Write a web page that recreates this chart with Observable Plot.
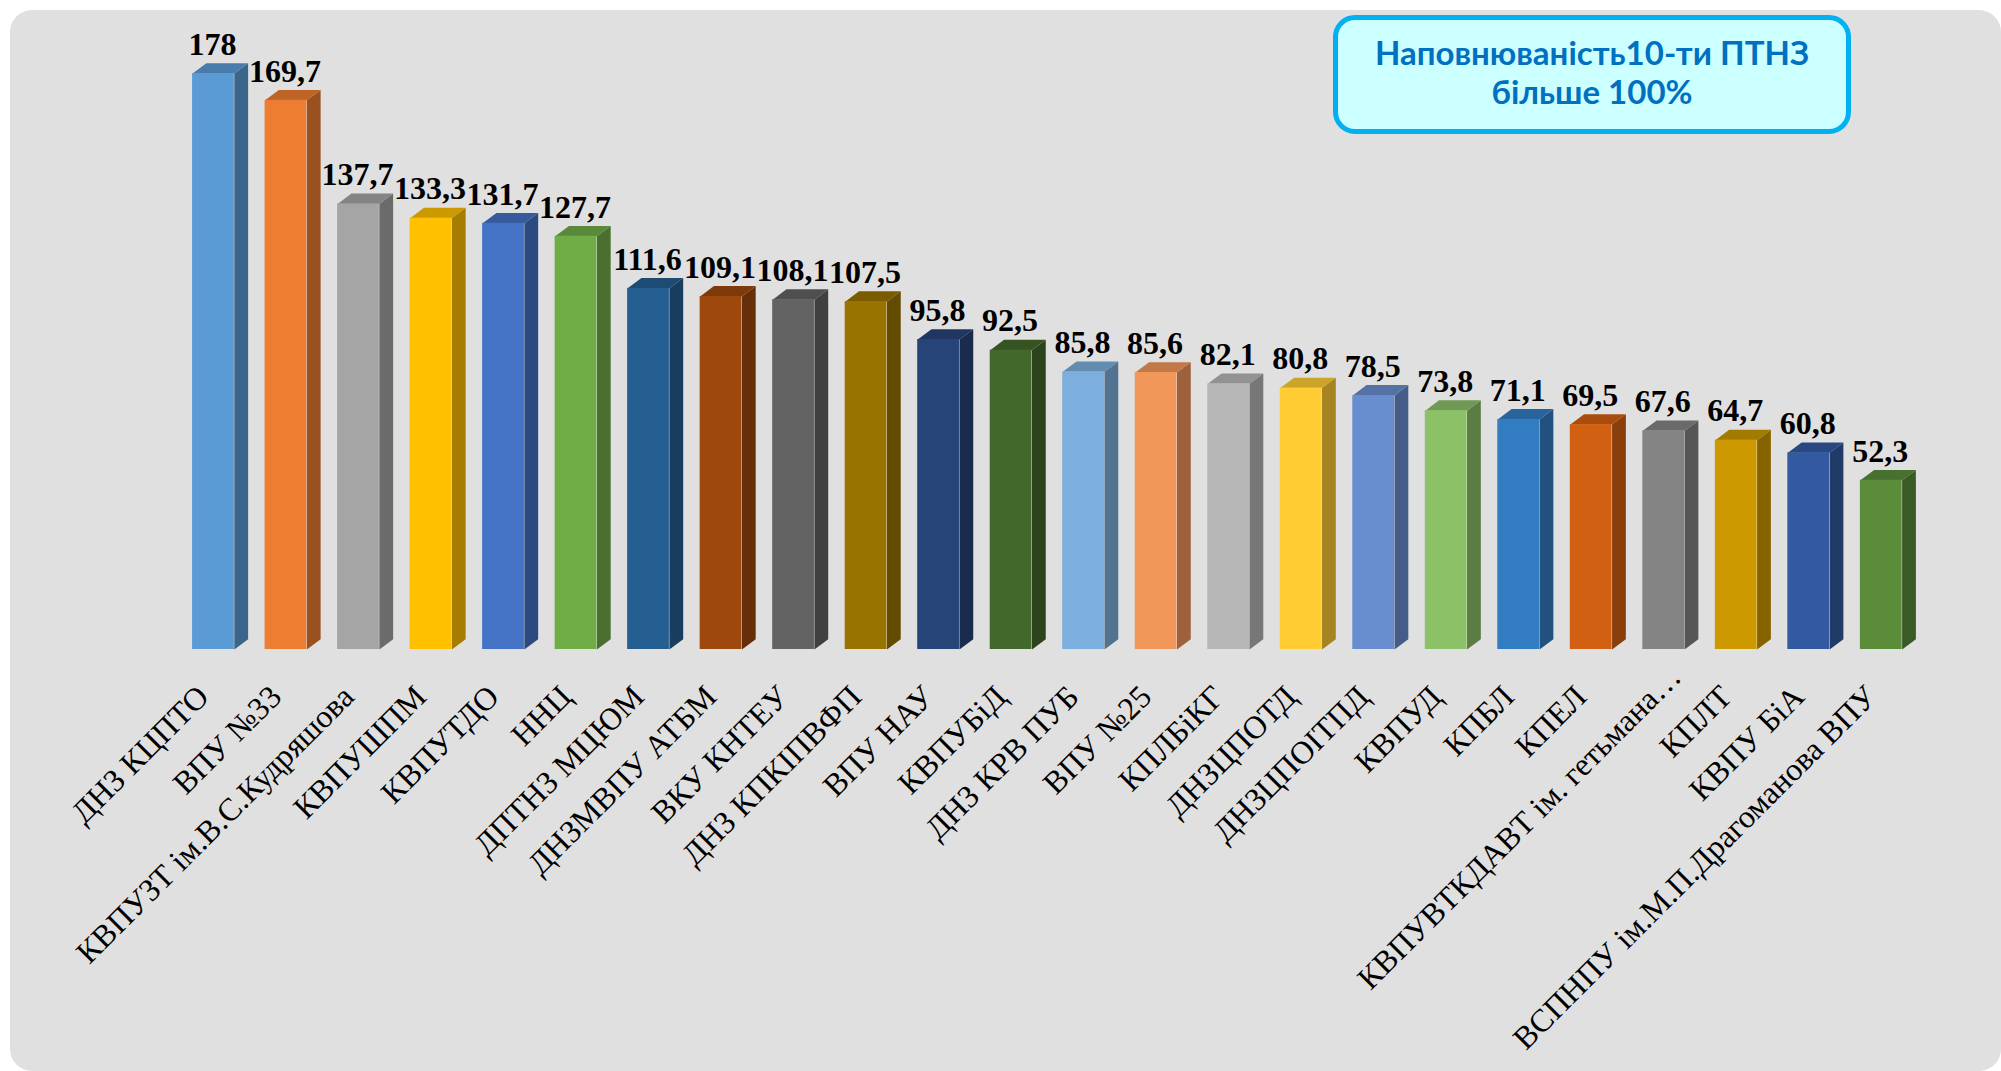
<!DOCTYPE html>
<html lang="uk">
<head>
<meta charset="utf-8">
<script src="https://cdn.jsdelivr.net/npm/d3@7"></script>
<script src="https://cdn.jsdelivr.net/npm/@observablehq/plot@0.6"></script>
<style>
html,body{margin:0;padding:0;background:#fff;overflow:hidden}
#wrap{position:relative;width:2001px;height:1071px;overflow:hidden}
#panel{position:absolute;left:10px;top:10px;width:1991px;height:1061px;background:#e0e0e0;border-radius:22px}
#chart{position:absolute;left:0;top:0}
#chart svg{background:transparent;display:block}
#note{position:absolute;left:1333px;top:15px;width:518px;height:119px;box-sizing:border-box;background:#ccffff;border:5px solid #00b0f0;border-radius:22px;
color:#0070c0;font:bold 33px/39px Lato,sans-serif;text-align:center;padding-top:13px}
</style>
</head>
<body>
<div id="wrap">
<div id="panel"></div>
<div id="chart"></div>
<div id="note">Наповнюваність10-ти ПТНЗ<br>більше 100%</div>
</div>
<script>
const names = ["ДНЗ КЦПТО","ВПУ №33","КВПУЗТ ім.В.С.Кудряшова","КВПУШПМ","КВПУТДО","ННЦ","ДПТНЗ МЦЮМ","ДНЗМВПУ АТБМ","ВКУ КНТЕУ","ДНЗ КПКІПВФП","ВПУ НАУ","КВПУБіД","ДНЗ КРВ ПУБ","ВПУ №25","КПЛБіКГ","ДНЗЦПОТД","ДНЗЦПОІТПД","КВПУД","КПБЛ","КПЕЛ","КВПУВТКДАВТ ім. гетьмана…","КПЛТ","КВПУ БіА","ВСПНПУ ім.М.П.Драгоманова ВПУ"];
const values = [178,169.7,137.7,133.3,131.7,127.7,111.6,109.1,108.1,107.5,95.8,92.5,85.8,85.6,82.1,80.8,78.5,73.8,71.1,69.5,67.6,64.7,60.8,52.3];
const valueLabels = ["178","169,7","137,7","133,3","131,7","127,7","111,6","109,1","108,1","107,5","95,8","92,5","85,8","85,6","82,1","80,8","78,5","73,8","71,1","69,5","67,6","64,7","60,8","52,3"];
const colors = ["#5b9bd5","#ed7d31","#a5a5a5","#ffc000","#4472c4","#70ad47","#255e91","#9e480e","#636363","#997300","#264478","#43682b","#7cafdd","#f1975a","#b7b7b7","#ffcd33","#698ed0","#8cc168","#327dc2","#d26012","#848484","#cc9a00","#335aa1","#5a8c3a"];
const truncatedLabel = 20;

const halfWidth = 0.288, depthX = 0.19, depthY = 3.2;
const shade = (c, k) => { const r = d3.rgb(c); return d3.rgb(r.r*k, r.g*k, r.b*k).formatHex(); };

const rows = names.map((name, i) => ({i, name, v: values[i], label: valueLabels[i], fill: colors[i]}));

const sidePts = rows.flatMap(d => [
  [d.i+halfWidth, 0], [d.i+halfWidth+depthX, depthY], [d.i+halfWidth+depthX, d.v+depthY], [d.i+halfWidth, d.v]
].map(([x,y]) => ({x, y, key: d.i, fill: shade(d.fill, 0.65)})));
const topPts = rows.flatMap(d => [
  [d.i-halfWidth, d.v], [d.i-halfWidth+depthX, d.v+depthY], [d.i+halfWidth+depthX, d.v+depthY], [d.i+halfWidth, d.v]
].map(([x,y]) => ({x, y, key: d.i, fill: shade(d.fill, 0.8)})));

const chart = Plot.plot({
  width: 2001, height: 1071,
  marginTop: 73, marginBottom: 422, marginLeft: 176.7, marginRight: 84,
  style: {background: "transparent"},
  x: {domain: [-0.5, 23.5]},
  y: {domain: [0, 178], axis: null},
  marks: [
    Plot.line(sidePts, {x: "x", y: "y", z: "key", fill: "fill", stroke: "none", curve: "linear"}),
    Plot.line(topPts, {x: "x", y: "y", z: "key", fill: "fill", stroke: "none", curve: "linear"}),
    Plot.rectY(rows, {x1: d => d.i-halfWidth, x2: d => d.i+halfWidth, y1: 0, y2: "v", fill: "fill"}),
    Plot.text(rows, {x: "i", y: "v", text: "label", dy: -29, dx: -1, fontFamily: "Liberation Serif", fontWeight: "bold", fontSize: 32, fill: "#000", lineAnchor: "middle"}),
    Plot.axisX({ticks: d3.range(names.length).filter(i => i !== truncatedLabel), tickFormat: i => names[i], tickRotate: -45, tickSize: 0, tickPadding: 42, dx: -10,
      fontFamily: "Liberation Serif", fontSize: 32, color: "#000", label: null}),
    Plot.text(rows.filter(d => d.i === truncatedLabel), {x: "i", y: () => 0, text: "name", rotate: -45, textAnchor: "end", lineAnchor: "middle", dx: 12, dy: 22,
      fontFamily: "Liberation Serif", fontSize: 32, fill: "#000"})
  ]
});
document.getElementById("chart").append(chart);
</script>
</body>
</html>
